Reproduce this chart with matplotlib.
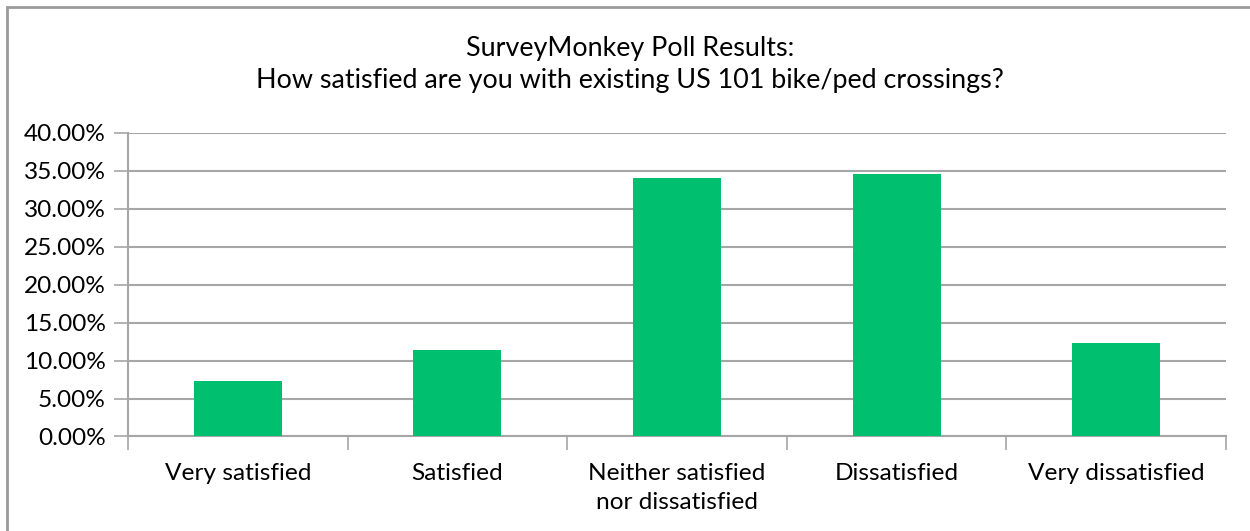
import matplotlib
matplotlib.use("Agg")
import matplotlib.pyplot as plt
from matplotlib.patches import Rectangle
from matplotlib.ticker import FuncFormatter

plt.rcParams['font.family'] = ['Lato', 'DejaVu Sans']

categories = ["Very satisfied", "Satisfied", "Neither satisfied\nnor dissatisfied",
              "Dissatisfied", "Very dissatisfied"]
shares = [7.27, 11.4, 34.08, 34.55, 12.3]
yticks = [0, 5, 10, 15, 20, 25, 30, 35, 40]

green = "#00BF6F"
grey = "#A6A6A6"

fig = plt.figure(figsize=(12.5, 5.31), dpi=100)
ax = fig.add_axes([0.1024, 0.178, 0.8784, 0.572])

x = list(range(len(categories)))
ax.bar(x, shares, width=0.4, color=green, zorder=3)

ax.set_xlim(-0.5, len(categories) - 0.5)
ax.set_ylim(0, 40)
ax.set_yticks(yticks)
ax.yaxis.set_major_formatter(FuncFormatter(lambda v, p: "%.2f%%" % v))
ax.grid(axis='y', color=grey, linewidth=1.5, zorder=0)

# category separators as major ticks, labels on minor ticks
ax.set_xticks([i - 0.5 for i in range(len(categories) + 1)])
ax.set_xticklabels([])
ax.set_xticks(x, minor=True)
ax.set_xticklabels(categories, minor=True, fontsize=17.6, linespacing=1.5)
ax.tick_params(axis='x', which='minor', length=0, pad=19)
ax.tick_params(axis='x', which='major', length=10, width=1.2, color=grey)
ax.tick_params(axis='y', length=10, width=1.2, color=grey, labelsize=17.6, pad=6)

for s in ['top', 'right']:
    ax.spines[s].set_visible(False)
for s in ['left', 'bottom']:
    ax.spines[s].set_color(grey)
    ax.spines[s].set_linewidth(1.5)

fig.text(0.504, 0.8785, "SurveyMonkey Poll Results:\nHow satisfied are you with existing US 101 bike/ped crossings?",
         ha='center', va='center', fontsize=19.4, linespacing=1.35)

# outer chart border
fig.patches.append(Rectangle((7 / 1250, -0.1), 1.2, 1 - 7 / 531 + 0.1,
                             transform=fig.transFigure, fill=False,
                             edgecolor="#9A9A9A", linewidth=2))

fig.savefig("out.png", dpi=100)
